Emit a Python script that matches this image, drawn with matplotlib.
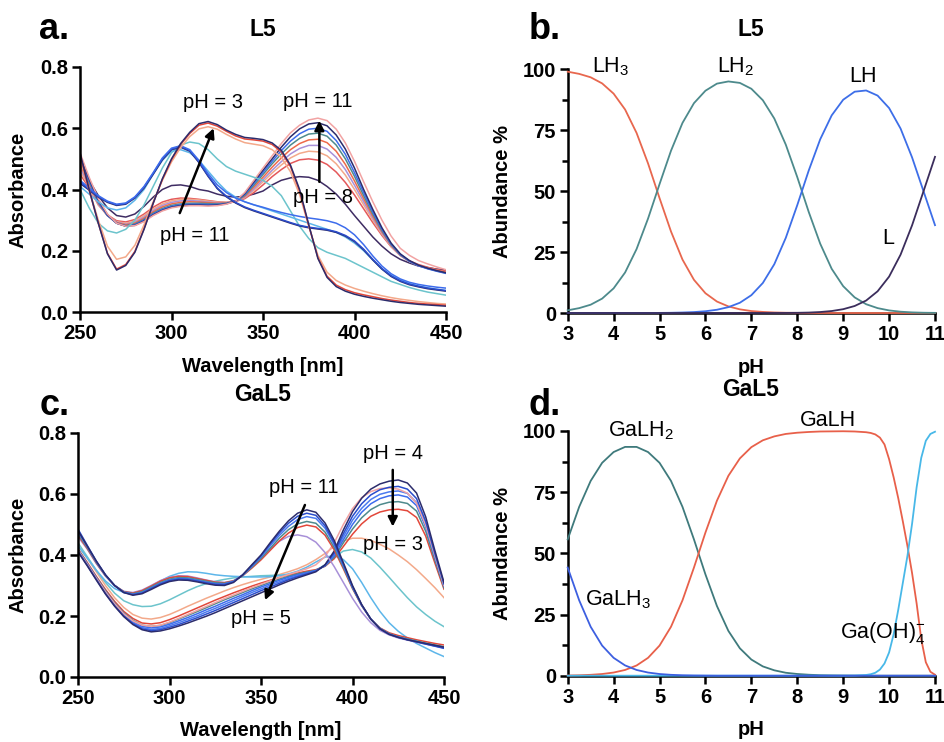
import numpy as np
import matplotlib
matplotlib.use('Agg')
import matplotlib.pyplot as plt
from matplotlib.ticker import MultipleLocator, FormatStrFormatter

plt.rcParams['font.family'] = 'Liberation Sans'

# Wavelength grid (nm) shared by the absorbance spectra
wl = list(range(250, 451, 5))

# ---- Panel a: L5 spectra ----
a_low_navy = [.52, .40, .29, .19, .137, .152, .195, .27, .355, .435, .50, .55, .587, .615, .622, .612, .594, .58, .57, .567, .563,
              .552, .528, .48, .40, .285, .175, .113, .083, .068, .058, .051, .045, .04, .035, .031, .028, .025, .023, .021, .019]
a_low_red = [.515, .398, .29, .192, .14, .155, .198, .272, .355, .433, .497, .547, .583, .61, .617, .607, .59, .575, .565, .562, .558,
             .547, .523, .475, .395, .283, .177, .117, .088, .073, .063, .056, .05, .044, .039, .035, .031, .028, .026, .024, .022]
a_low_peach = [.50, .40, .30, .215, .172, .18, .218, .285, .36, .43, .49, .537, .573, .598, .605, .597, .58, .565, .553, .548, .543,
               .53, .505, .458, .383, .28, .185, .13, .103, .088, .077, .068, .06, .053, .047, .042, .038, .034, .031, .028, .026]
a_mid_blue = [.43, .405, .38, .362, .352, .356, .376, .41, .455, .503, .535, .543, .53, .495, .452, .415, .39, .372, .36, .35, .342,
              .333, .325, .318, .312, .307, .303, .298, .29, .275, .252, .22, .183, .15, .125, .108, .097, .09, .085, .081, .078]
a_mid_royal = [.425, .40, .377, .36, .35, .354, .374, .408, .453, .50, .532, .54, .527, .49, .445, .405, .378, .358, .343, .332, .322,
               .312, .302, .292, .283, .277, .273, .269, .262, .25, .232, .205, .172, .142, .118, .102, .091, .084, .078, .074, .07]
a_mid_navy = [.42, .398, .375, .358, .348, .352, .372, .405, .45, .497, .53, .538, .525, .488, .443, .403, .376, .356, .341, .33, .32,
              .31, .30, .29, .281, .275, .271, .267, .26, .248, .23, .203, .17, .14, .116, .10, .089, .082, .076, .072, .068]
a_mid_sky = [.41, .385, .36, .34, .333, .34, .365, .40, .45, .495, .525, .53, .52, .495, .46, .425, .395, .375, .36, .35, .34,
             .33, .32, .31, .30, .29, .28, .27, .26, .245, .225, .20, .17, .14, .12, .105, .093, .085, .079, .074, .07]
a_mid_cyan = [.40, .34, .29, .265, .258, .27, .30, .35, .41, .47, .52, .545, .555, .55, .53, .50, .475, .46, .45, .44, .43,
              .41, .38, .33, .28, .24, .21, .195, .185, .175, .16, .145, .13, .115, .10, .09, .08, .072, .065, .06, .055]
a_ph8 = [.49, .43, .38, .34, .315, .31, .32, .345, .375, .40, .413, .415, .41, .40, .395, .385, .378, .375, .378, .385, .395,
         .415, .43, .438, .442, .44, .43, .41, .385, .352, .315, .28, .245, .215, .19, .172, .16, .15, .145, .14, .137]
a_high_pink = [.52, .44, .37, .32, .29, .28, .282, .295, .315, .33, .34, .345, .347, .347, .346, .347, .352, .362, .39, .43, .47,
               .51, .55, .585, .61, .627, .633, .625, .597, .552, .492, .425, .36, .30, .248, .208, .185, .168, .157, .147, .138]
a_high_navy = [.51, .435, .365, .318, .29, .28, .283, .297, .317, .332, .342, .347, .349, .349, .348, .349, .353, .362, .387, .425, .463,
               .50, .538, .572, .598, .614, .618, .608, .578, .532, .47, .40, .335, .275, .225, .19, .168, .153, .143, .135, .128]
a_high_blue = [.50, .43, .36, .315, .29, .281, .285, .30, .32, .335, .345, .35, .352, .352, .351, .351, .354, .362, .384, .42, .456,
               .492, .527, .558, .582, .597, .60, .59, .56, .515, .455, .39, .327, .27, .222, .188, .166, .151, .141, .133, .126]
a_high_teal = [.49, .425, .358, .315, .29, .282, .287, .302, .323, .338, .348, .353, .355, .355, .354, .353, .355, .362, .381, .414, .449,
               .484, .516, .545, .567, .581, .584, .574, .545, .50, .443, .38, .32, .266, .22, .187, .166, .152, .142, .134, .127]
a_high_orange = [.48, .42, .355, .315, .292, .285, .29, .306, .327, .343, .353, .358, .36, .359, .357, .355, .356, .362, .378, .408, .44,
                 .473, .503, .53, .55, .562, .564, .553, .525, .482, .428, .37, .313, .262, .218, .186, .166, .152, .143, .136, .13]
a_high_lilac = [.47, .415, .352, .315, .293, .287, .293, .31, .331, .348, .358, .363, .364, .362, .359, .357, .357, .362, .375, .402, .432,
                .463, .491, .516, .534, .544, .544, .532, .505, .465, .414, .36, .307, .258, .216, .185, .165, .151, .142, .135, .129]
a_high_peach = [.46, .41, .35, .315, .295, .29, .297, .315, .336, .353, .363, .368, .368, .366, .362, .359, .358, .362, .373, .397, .425,
                .454, .48, .503, .518, .525, .523, .51, .484, .447, .40, .35, .30, .254, .214, .184, .165, .152, .143, .136, .13]
a_high_rose = [.45, .405, .35, .317, .298, .294, .302, .32, .342, .359, .368, .372, .371, .368, .364, .36, .358, .361, .37, .39, .415,
               .442, .465, .485, .497, .50, .496, .482, .457, .423, .382, .337, .292, .25, .213, .185, .167, .155, .146, .139, .133]

# ---- Panel c: GaL5 spectra ----
c_g_navy = [.48, .43, .38, .335, .30, .277, .268, .273, .287, .302, .313, .318, .317, .312, .306, .301, .30, .31, .335, .368, .40,
            .44, .478, .512, .537, .548, .54, .505, .448, .375, .30, .238, .19, .158, .14, .13, .122, .116, .11, .104, .098]
c_g_blue = [.485, .432, .38, .335, .30, .277, .27, .275, .29, .305, .316, .321, .32, .315, .309, .304, .303, .312, .335, .366, .398,
            .436, .472, .504, .527, .537, .53, .496, .44, .37, .297, .236, .19, .158, .14, .13, .122, .115, .108, .101, .094]
c_g_blue2 = [.475, .428, .378, .334, .30, .278, .271, .277, .292, .307, .318, .323, .322, .317, .311, .306, .305, .313, .334, .363, .394,
             .43, .464, .494, .516, .526, .52, .488, .434, .366, .295, .236, .19, .159, .141, .131, .123, .116, .109, .102, .095]
c_g_teal = [.47, .425, .376, .333, .30, .279, .273, .28, .295, .31, .321, .326, .325, .32, .314, .309, .307, .314, .333, .36, .389,
            .422, .455, .483, .502, .51, .504, .475, .425, .36, .292, .235, .19, .16, .142, .132, .125, .118, .111, .105, .099]
c_g_red = [.465, .422, .374, .332, .30, .28, .275, .283, .298, .314, .325, .33, .329, .323, .317, .311, .309, .315, .332, .357, .384,
           .415, .446, .472, .49, .498, .492, .465, .417, .355, .29, .234, .19, .161, .145, .136, .129, .122, .116, .11, .105]
c_g_lilac = [.46, .42, .372, .331, .30, .281, .277, .285, .30, .316, .327, .332, .331, .325, .318, .312, .31, .316, .334, .36, .39,
             .42, .445, .461, .466, .46, .442, .408, .362, .31, .258, .213, .178, .153, .138, .128, .121, .114, .108, .102, .097]
c_k_navy = [.41, .365, .318, .272, .232, .198, .172, .155, .148, .151, .158, .167, .177, .188, .199, .211, .224, .237, .25, .263, .276,
            .289, .302, .314, .325, .335, .345, .368, .413, .482, .542, .586, .616, .633, .642, .646, .636, .603, .525, .415, .31]
c_k_blue = [.412, .367, .32, .274, .234, .20, .175, .158, .152, .155, .163, .172, .183, .194, .206, .218, .231, .244, .257, .27, .283,
            .295, .307, .319, .329, .338, .347, .367, .407, .47, .527, .568, .597, .614, .622, .625, .616, .585, .51, .405, .305]
c_k_pink = [.415, .37, .324, .279, .24, .207, .184, .17, .166, .17, .18, .192, .205, .218, .231, .244, .257, .269, .281, .293, .304,
            .315, .326, .336, .345, .355, .368, .395, .44, .50, .552, .588, .608, .618, .62, .616, .603, .57, .498, .398, .30]
c_k_blue2 = [.414, .369, .322, .277, .237, .203, .178, .162, .156, .159, .168, .178, .189, .20, .213, .225, .238, .251, .264, .277, .289,
             .301, .312, .323, .332, .34, .348, .366, .402, .46, .514, .553, .582, .599, .607, .61, .602, .572, .50, .398, .30]
c_k_blue3 = [.416, .371, .325, .28, .24, .207, .182, .166, .161, .164, .173, .184, .195, .207, .22, .232, .245, .258, .27, .283, .295,
             .306, .317, .327, .335, .342, .349, .365, .398, .45, .50, .54, .568, .585, .594, .597, .59, .562, .492, .393, .298]
c_k_teal = [.418, .373, .327, .283, .243, .21, .186, .17, .166, .169, .178, .19, .202, .214, .227, .24, .253, .265, .277, .289, .30,
            .311, .321, .33, .338, .344, .35, .364, .393, .44, .485, .522, .549, .565, .573, .575, .569, .544, .478, .384, .293]
c_k_red = [.42, .376, .33, .287, .248, .215, .192, .177, .174, .178, .188, .20, .213, .226, .239, .252, .264, .276, .287, .298, .308,
           .317, .326, .334, .341, .347, .352, .363, .388, .428, .468, .502, .527, .541, .548, .55, .545, .523, .462, .374, .288]
c_peach = [.43, .39, .345, .30, .26, .228, .205, .193, .19, .195, .205, .218, .232, .245, .258, .27, .282, .293, .303, .312, .32,
           .328, .336, .345, .355, .368, .385, .405, .428, .446, .455, .455, .448, .435, .42, .40, .378, .352, .323, .293, .26]
c_cyan = [.44, .395, .35, .31, .275, .25, .237, .231, .232, .24, .253, .268, .283, .296, .306, .314, .32, .325, .328, .33, .332,
          .333, .334, .335, .337, .342, .35, .368, .393, .413, .418, .41, .39, .36, .327, .293, .26, .23, .205, .183, .165]
c_sky = [.43, .39, .35, .315, .29, .277, .275, .283, .298, .315, .33, .34, .345, .344, .34, .335, .332, .33, .329, .328, .328,
         .329, .332, .338, .347, .36, .377, .393, .398, .385, .355, .31, .26, .215, .178, .15, .128, .11, .095, .08, .067]

# ---- Panel b: L5 speciation (% vs pH) ----
b_ph = [3, 3.25, 3.5, 3.75, 4, 4.25, 4.5, 4.75, 5, 5.25, 5.5, 5.75, 6, 6.25, 6.5, 6.75, 7,
        7.25, 7.5, 7.75, 8, 8.25, 8.5, 8.75, 9, 9.25, 9.5, 9.75, 10, 10.25, 10.5, 10.75, 11]
b_lh3 = [98.9, 98.0, 96.6, 94.1, 89.9, 83.4, 73.8, 61.3, 47.1, 33.4, 21.9, 13.6, 8.1, 4.7, 2.7, 1.5, 0.8,
         0.44, 0.22, 0.11, 0.05, 0.02, 0.01, 0, 0, 0, 0, 0, 0, 0, 0, 0, 0]
b_lh2 = [1.1, 2.0, 3.4, 5.9, 10.1, 16.6, 26.2, 38.7, 52.8, 66.5, 77.9, 86.0, 91.1, 94.0, 94.9, 94.3, 91.9,
         87.2, 79.7, 69.0, 55.7, 41.4, 28.4, 18.1, 11.0, 6.4, 3.6, 2.0, 1.06, 0.53, 0.25, 0.11, 0.05]
b_lh = [0, 0, 0, 0, 0.01, 0.01, 0.02, 0.03, 0.04, 0.09, 0.2, 0.38, 0.72, 1.33, 2.4, 4.2, 7.3,
        12.3, 20.0, 30.8, 44.2, 58.4, 71.2, 81.0, 87.4, 90.7, 91.2, 89.1, 84.0, 75.6, 63.8, 49.9, 36.0]
b_l = [0, 0, 0, 0, 0, 0, 0, 0, 0, 0, 0, 0, 0, 0, 0, 0, 0,
       0, 0.01, 0.03, 0.08, 0.18, 0.4, 0.81, 1.56, 2.87, 5.1, 8.9, 14.9, 23.9, 35.9, 49.9, 64.0]

# ---- Panel d: GaL5 speciation ----
d_ph = [3, 3.25, 3.5, 3.75, 4, 4.25, 4.5, 4.75, 5, 5.25, 5.5, 5.75, 6, 6.25, 6.5, 6.75, 7, 7.25, 7.5,
        7.75, 8, 8.25, 8.5, 8.75, 9, 9.25, 9.5, 9.6, 9.7, 9.8, 9.9, 10, 10.1, 10.2, 10.3, 10.4, 10.5,
        10.6, 10.7, 10.8, 10.9, 11]
d_galh3 = [44.2, 30.8, 20.0, 12.3, 7.3, 4.2, 2.35, 1.29, 0.69, 0.36, 0.17, 0.08, 0.04, 0, 0, 0, 0, 0, 0,
           0, 0, 0, 0, 0, 0, 0, 0, 0, 0, 0, 0, 0, 0, 0, 0, 0, 0, 0, 0, 0, 0, 0]
d_galh2 = [55.7, 69.0, 79.6, 87.0, 91.4, 93.5, 93.5, 91.4, 87.0, 79.6, 69.0, 55.7, 41.4, 28.5, 18.3, 11.2, 6.6, 3.8, 2.2,
           1.2, 0.7, 0.4, 0.2, 0.12, 0.07, 0.04, 0.02, 0, 0, 0, 0, 0, 0, 0, 0, 0, 0, 0, 0, 0, 0, 0]
d_galh = [0.08, 0.17, 0.36, 0.69, 1.29, 2.35, 4.17, 7.3, 12.3, 20.0, 30.8, 44.2, 58.5, 71.5, 81.7, 88.8, 93.4, 96.2, 97.8,
          98.8, 99.3, 99.6, 99.8, 99.85, 99.9, 99.8, 99.5, 99.2, 98.6, 97.3, 94.5, 88.5, 81.0, 72.5, 63.0, 53.0, 42.0,
          29.5, 15.0, 5.5, 1.6, 0.4]
d_gaoh4 = [0, 0, 0, 0, 0, 0, 0, 0, 0, 0, 0, 0, 0, 0, 0, 0, 0, 0, 0,
           0, 0, 0, 0, 0, 0, 0.05, 0.3, 0.6, 1.2, 2.5, 5.0, 9.5, 17.0, 27.0, 38.0, 49.0, 62.0,
           77.0, 89.0, 96.0, 98.8, 99.7]

NAVY = '#2c2c6c'
RED = '#e2473a'
PEACH = '#f3a98a'
BLUE = '#3d6cec'
ROYAL = '#2a4ccc'
SKY = '#5db6ea'
CYAN = '#6cc4cc'
TEAL = '#4e8a8c'
ORANGE = '#ee6a4a'
LILAC = '#a890d8'
PINK = '#f2a3a3'
ROSE = '#e4585a'
PURPLE = '#3e2c63'

a_series = [
    (a_ph8, PURPLE), (a_high_rose, ROSE), (a_high_peach, PEACH), (a_high_lilac, LILAC),
    (a_high_orange, ORANGE), (a_high_teal, TEAL), (a_high_blue, BLUE), (a_high_navy, NAVY),
    (a_high_pink, PINK), (a_mid_cyan, CYAN), (a_mid_sky, SKY), (a_mid_navy, NAVY),
    (a_mid_royal, ROYAL), (a_mid_blue, BLUE), (a_low_peach, PEACH), (a_low_red, RED), (a_low_navy, NAVY),
]
c_series = [
    (c_peach, PEACH), (c_cyan, CYAN), (c_sky, SKY),
    (c_k_red, RED), (c_k_teal, TEAL), (c_k_blue3, BLUE), (c_k_blue2, '#4a7af0'), (c_k_pink, PINK),
    (c_k_blue, ROYAL), (c_k_navy, NAVY),
    (c_g_lilac, LILAC), (c_g_red, RED), (c_g_teal, TEAL), (c_g_blue2, '#4a7af0'), (c_g_blue, ROYAL), (c_g_navy, NAVY),
]

W, H = 944, 742
fig = plt.figure(figsize=(W / 100, H / 100), dpi=100)

TICK_FS = 14.5
LABEL_FS = 14.5


def rect(left, top, right, bottom):
    return [left / W, 1 - bottom / H, (right - left) / W, (bottom - top) / H]


def style(ax):
    for s in ['top', 'right']:
        ax.spines[s].set_visible(False)
    for s in ['left', 'bottom']:
        ax.spines[s].set_linewidth(1.8)
    ax.tick_params(which='major', width=1.8, length=5.5, labelsize=TICK_FS, pad=3)
    ax.tick_params(which='minor', width=1.8, length=4)
    for lbl in ax.get_xticklabels() + ax.get_yticklabels():
        lbl.set_fontweight('bold')


def spectra_axes(ax, series, xlab_y, ylab_x):
    for vals, col in series:
        ax.plot(wl, vals, color=col, lw=1.1)
    ax.set_xlim(250, 450)
    ax.set_ylim(0, 0.8)
    ax.set_xticks([250, 300, 350, 400, 450])
    ax.set_yticks([0, 0.2, 0.4, 0.6, 0.8])
    ax.yaxis.set_major_formatter(FormatStrFormatter('%.1f'))
    style(ax)
    ax.set_xlabel('Wavelength [nm]', fontsize=LABEL_FS, fontweight='bold', va='center')
    ax.set_ylabel('Absorbance', fontsize=LABEL_FS, fontweight='bold', va='center')
    ax.xaxis.set_label_coords(0.5, xlab_y)
    ax.yaxis.set_label_coords(ylab_x, 0.5)


def species_axes(ax, xlab_y, ylab_x):
    ax.set_xlim(3, 11)
    ax.set_ylim(0, 100)
    ax.set_xticks(range(3, 12))
    ax.set_yticks([0, 25, 50, 75, 100])
    ax.yaxis.set_minor_locator(MultipleLocator(12.5))
    style(ax)
    ax.set_xlabel('pH', fontsize=LABEL_FS, fontweight='bold', va='center')
    ax.set_ylabel('Abundance %', fontsize=LABEL_FS, fontweight='bold', va='center')
    ax.xaxis.set_label_coords(0.5, xlab_y)
    ax.yaxis.set_label_coords(ylab_x, 0.5)


arrow = dict(arrowstyle='-|>', color='black', lw=1.8, mutation_scale=14, shrinkA=0, shrinkB=0)
note = dict(fontsize=14.5, ha='center', va='center')

# a. L5 absorbance
ax_a = fig.add_axes(rect(80, 67, 446, 312))
spectra_axes(ax_a, a_series, -55 / 245, -62 / 366)
ax_a.annotate('', xy=(323, 0.60), xytext=(304.5, 0.323), arrowprops=arrow)
ax_a.annotate('', xy=(380.8, 0.625), xytext=(380.8, 0.425), arrowprops=arrow)
ax_a.text(322.7, 0.683, 'pH = 3', **note)
ax_a.text(312.5, 0.251, 'pH = 11', **note)
ax_a.text(379.8, 0.687, 'pH = 11', **note)
ax_a.text(382.6, 0.374, 'pH = 8', **note)

# b. L5 speciation
ax_b = fig.add_axes(rect(567.7, 69, 935, 313))
for vals, col in [(b_lh3, '#e8674e'), (b_lh2, '#4d8a8c'), (b_lh, '#3d6ee8'), (b_l, '#3b2d5c')]:
    ax_b.plot(b_ph, vals, color=col, lw=1.3, zorder=3, clip_on=False)
species_axes(ax_b, -54 / 244, -65 / 367.3)
sp = dict(fontsize=15.5, ha='left', va='center')
ax_b.text(3.52, 101, 'LH$_\\mathregular{3}$', **sp)
ax_b.text(6.25, 101, 'LH$_\\mathregular{2}$', **sp)
ax_b.text(9.13, 97, 'LH', **sp)
ax_b.text(9.86, 30.6, 'L', **sp)

# c. GaL5 absorbance
ax_c = fig.add_axes(rect(78, 433, 444, 677))
spectra_axes(ax_c, c_series, -53 / 244, -60 / 366)
ax_c.annotate('', xy=(352.2, 0.252), xytext=(374, 0.564), arrowprops=arrow)
ax_c.annotate('', xy=(422, 0.493), xytext=(422, 0.679), arrowprops=arrow)
ax_c.text(373.1, 0.622, 'pH = 11', **note)
ax_c.text(350, 0.192, 'pH = 5', **note)
ax_c.text(422, 0.733, 'pH = 4', **note)
ax_c.text(422, 0.436, 'pH = 3', **note)

# d. GaL5 speciation
ax_d = fig.add_axes(rect(567.7, 431, 935, 675.7))
for vals, col in [(d_galh2, '#3f7a7c'), (d_galh, '#e8604a'), (d_gaoh4, '#48b8e8'), (d_galh3, '#3d5fe0')]:
    ax_d.plot(d_ph, vals, color=col, lw=1.3, zorder=3, clip_on=False)
species_axes(ax_d, -54 / 244.7, -65 / 367.3)
ax_d.text(3.87, 100.3, 'GaLH$_\\mathregular{2}$', **sp)
ax_d.text(8.05, 104.2, 'GaLH', **sp)
ax_d.text(3.38, 30.9, 'GaLH$_\\mathregular{3}$', **sp)
ax_d.text(8.92, 17.3, 'Ga(OH)$_\\mathregular{4}^\\mathregular{-}$', **sp)

# panel letters and titles
for x, y, s in [(39, 39, 'a.'), (529, 39, 'b.'), (40, 415, 'c.'), (528, 415, 'd.')]:
    fig.text(x / W, 1 - y / H, s, fontsize=26, fontweight='bold', ha='left', va='baseline')
for x, y, s in [(263, 30, 'L5'), (751, 30, 'L5'), (263, 394, 'GaL5'), (751, 389, 'GaL5')]:
    fig.text(x / W, 1 - y / H, s, fontsize=16.5, fontweight='bold', ha='center', va='center')

fig.savefig('out.png', dpi=100)
